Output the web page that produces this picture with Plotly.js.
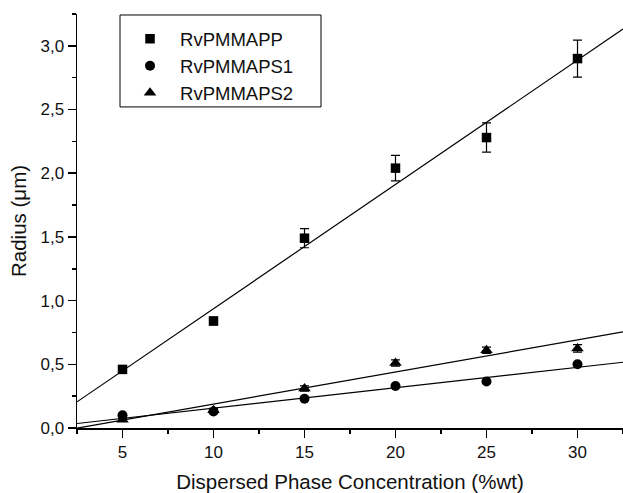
<!DOCTYPE html>
<html>
<head>
<meta charset="utf-8">
<script src="https://cdn.plot.ly/plotly-3.0.1.min.js"></script>
<style>
  html, body { margin: 0; padding: 0; background: #fff; }
  #chart { width: 623px; height: 493px; }
</style>
</head>
<body>
<div id="chart"></div>
<script>
// ---- data ----
const concentration = [5, 10, 15, 20, 25, 30];
const rvPMMAPP      = [0.46, 0.84, 1.49, 2.04, 2.28, 2.90];
const rvPMMAPPErr   = [0.01, 0.03, 0.075, 0.10, 0.115, 0.145];
const rvPMMAPS1     = [0.10, 0.13, 0.23, 0.33, 0.365, 0.50];
const rvPMMAPS2     = [0.065, 0.14, 0.31, 0.51, 0.61, 0.625];
const rvPMMAPS2Err  = [0.01, 0.015, 0.02, 0.025, 0.025, 0.03];
const seriesNames   = ['RvPMMAPP', 'RvPMMAPS1', 'RvPMMAPS2'];
const xTickVals     = [5, 10, 15, 20, 25, 30];
const yTickVals     = [0, 0.5, 1.0, 1.5, 2.0, 2.5, 3.0];
const xRange        = [2.5, 32.5];
const yRange        = [0, 3.25];

// linear least-squares fit, evaluated across the x range
function linFit(xs, ys) {
  const n = xs.length;
  const mx = xs.reduce((a, b) => a + b, 0) / n;
  const my = ys.reduce((a, b) => a + b, 0) / n;
  let sxy = 0, sxx = 0;
  for (let i = 0; i < n; i++) { sxy += (xs[i] - mx) * (ys[i] - my); sxx += (xs[i] - mx) ** 2; }
  const slope = sxy / sxx, icpt = my - slope * mx;
  return xRange.map(x => icpt + slope * x);
}

const font = 'Liberation Sans, Arial, sans-serif';
const txt = '#111';
const lineStyle = { color: '#000', width: 1.2 };

const fits = [rvPMMAPP, rvPMMAPS1, rvPMMAPS2].map(ys => ({
  x: xRange, y: linFit(concentration, ys), mode: 'lines', line: lineStyle,
  showlegend: false, hoverinfo: 'skip', cliponaxis: true
}));

const errStyle = { type: 'data', visible: true, color: '#000', thickness: 1.2, width: 4.5 };

const traces = [
  ...fits,
  { x: concentration, y: rvPMMAPP, name: seriesNames[0], mode: 'markers',
    marker: { symbol: 'square', size: 9.5, color: '#000' },
    error_y: Object.assign({ array: rvPMMAPPErr }, errStyle) },
  { x: concentration, y: rvPMMAPS1, name: seriesNames[1], mode: 'markers',
    marker: { symbol: 'circle', size: 10, color: '#000' } },
  { x: concentration, y: rvPMMAPS2, name: seriesNames[2], mode: 'markers',
    marker: { symbol: 'triangle-up', size: 11, color: '#000' },
    error_y: Object.assign({ array: rvPMMAPS2Err }, errStyle) }
];

const axisCommon = {
  showgrid: false, zeroline: false, showline: true, linecolor: '#000', linewidth: 1.5,
  ticks: 'outside', ticklen: 8, tickwidth: 1.5, tickcolor: '#000',
  tickfont: { family: font, size: 17, color: txt }, mirror: false, fixedrange: true
};

const layout = {
  width: 623, height: 493,
  margin: { l: 77, r: 0, t: 14, b: 65, pad: 0 },
  paper_bgcolor: '#fff', plot_bgcolor: '#fff',
  separators: ',.',
  font: { family: font, color: txt },
  showlegend: true,
  legend: {
    x: 0.0788, y: 0.985, xanchor: 'left', yanchor: 'top',
    bgcolor: 'rgba(0,0,0,0)', borderwidth: 0, itemwidth: 50,
    font: { family: font, size: 18.5, color: txt }
  },
  shapes: [{
    type: 'rect', xref: 'paper', yref: 'paper',
    x0: (120 - 77) / 546, x1: (321 - 77) / 546,
    y0: (428.3 - 107) / 414.3, y1: (428.3 - 15) / 414.3,
    line: { color: '#000', width: 1 }, fillcolor: 'rgba(0,0,0,0)'
  }],
  xaxis: Object.assign({}, axisCommon, {
    range: xRange, tickmode: 'array', tickvals: xTickVals,
    minor: { dtick: 2.5, tick0: 0, ticks: 'outside', ticklen: 4, tickwidth: 1.5, tickcolor: '#000' },
    title: { text: 'Dispersed Phase Concentration (%wt)', font: { family: font, size: 20.5, color: txt }, standoff: 21 }
  }),
  yaxis: Object.assign({}, axisCommon, {
    range: yRange, tickmode: 'array', tickvals: yTickVals, tickformat: '.1f',
    minor: { dtick: 0.25, tick0: 0, ticks: 'outside', ticklen: 4, tickwidth: 1.5, tickcolor: '#000' },
    title: { text: 'Radius (\u03bcm)', font: { family: font, size: 20.5, color: txt }, standoff: 8 }
  })
};

Plotly.newPlot('chart', traces, layout, { displayModeBar: false, staticPlot: true });
</script>
</body>
</html>
